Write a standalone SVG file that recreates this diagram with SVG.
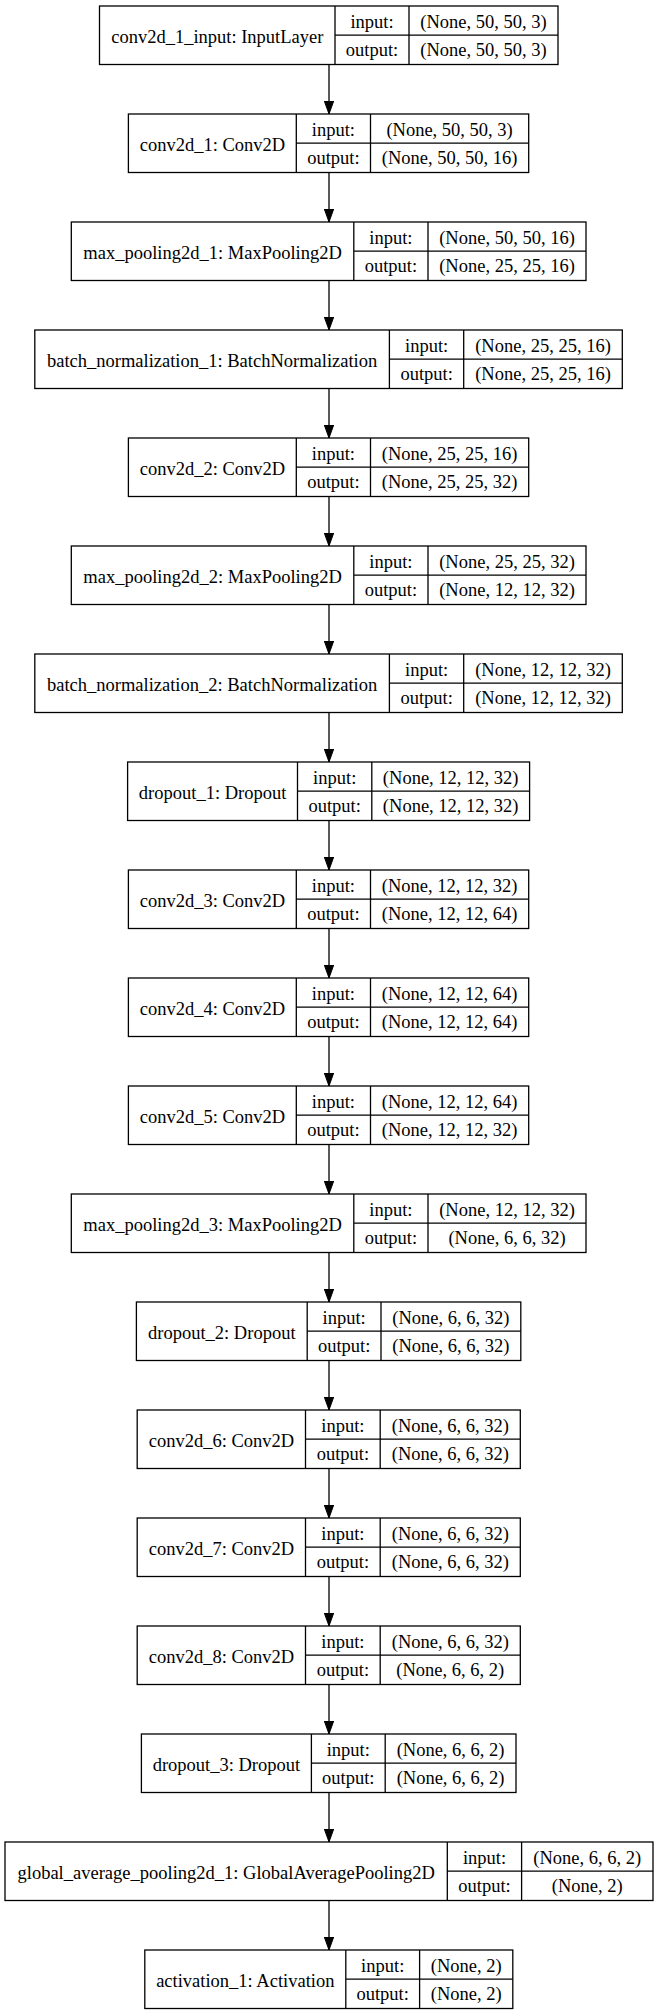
<svg xmlns="http://www.w3.org/2000/svg" width="658" height="2015" viewBox="0 0 658 2015">
<style>
.b{fill:#fff;stroke:#000;stroke-width:1.3}
.l{stroke:#000;stroke-width:1.3;fill:none}
text{font-family:"Liberation Serif","Times New Roman",serif;font-size:18.5px;fill:#000;text-anchor:middle}
.e{stroke:#000;stroke-width:1.3;fill:none;marker-end:url(#ah)}
</style>
<defs>
<marker id="ah" markerUnits="userSpaceOnUse" markerWidth="14" markerHeight="10" refX="13" refY="4.7" orient="auto">
<path d="M0,0 L13,4.7 L0,9.4 Z" fill="#000" stroke="#000" stroke-width="1"/>
</marker>
</defs>
<rect width="658" height="2015" fill="#fff"/>
<g id="connectors">
<line class="e" x1="329" y1="64.5" x2="329" y2="114"/>
<line class="e" x1="329" y1="172.5" x2="329" y2="222"/>
<line class="e" x1="329" y1="280.5" x2="329" y2="330"/>
<line class="e" x1="329" y1="388.5" x2="329" y2="438"/>
<line class="e" x1="329" y1="496.5" x2="329" y2="546"/>
<line class="e" x1="329" y1="604.5" x2="329" y2="654"/>
<line class="e" x1="329" y1="712.5" x2="329" y2="762"/>
<line class="e" x1="329" y1="820.5" x2="329" y2="870"/>
<line class="e" x1="329" y1="928.5" x2="329" y2="978"/>
<line class="e" x1="329" y1="1036.5" x2="329" y2="1086"/>
<line class="e" x1="329" y1="1144.5" x2="329" y2="1194"/>
<line class="e" x1="329" y1="1252.5" x2="329" y2="1302"/>
<line class="e" x1="329" y1="1360.5" x2="329" y2="1410"/>
<line class="e" x1="329" y1="1468.5" x2="329" y2="1518"/>
<line class="e" x1="329" y1="1576.5" x2="329" y2="1626"/>
<line class="e" x1="329" y1="1684.5" x2="329" y2="1734"/>
<line class="e" x1="329" y1="1792.5" x2="329" y2="1842"/>
<line class="e" x1="329" y1="1900.5" x2="329" y2="1950"/>
</g>
<g id="conv2d_1_input" transform="translate(0,6)">
<rect class="b" x="99.5" y="0" width="458.5" height="58.5"/>
<path class="l" d="M335,0V58.5M409,0V58.5M335,29.2H558"/>
<text x="217.3" y="36.5">conv2d_1_input: InputLayer</text>
<text x="372" y="21.5">input:</text><text x="372" y="50">output:</text>
<text x="483.5" y="21.5">(None, 50, 50, 3)</text><text x="483.5" y="50">(None, 50, 50, 3)</text>
</g>
<g id="conv2d_1" transform="translate(0,114)">
<rect class="b" x="128.4" y="0" width="400.3" height="58.5"/>
<path class="l" d="M296.3,0V58.5M370.5,0V58.5M296.3,29.2H528.7"/>
<text x="212.4" y="36.5">conv2d_1: Conv2D</text>
<text x="333.4" y="21.5">input:</text><text x="333.4" y="50">output:</text>
<text x="449.6" y="21.5">(None, 50, 50, 3)</text><text x="449.6" y="50">(None, 50, 50, 16)</text>
</g>
<g id="max_pooling2d_1" transform="translate(0,222)">
<rect class="b" x="71.3" y="0" width="514.7" height="58.5"/>
<path class="l" d="M353.8,0V58.5M428,0V58.5M353.8,29.2H586"/>
<text x="212.6" y="36.5">max_pooling2d_1: MaxPooling2D</text>
<text x="390.9" y="21.5">input:</text><text x="390.9" y="50">output:</text>
<text x="507" y="21.5">(None, 50, 50, 16)</text><text x="507" y="50">(None, 25, 25, 16)</text>
</g>
<g id="batch_normalization_1" transform="translate(0,330)">
<rect class="b" x="34.8" y="0" width="587.5" height="58.5"/>
<path class="l" d="M389.4,0V58.5M463.7,0V58.5M389.4,29.2H622.3"/>
<text x="212.1" y="36.5">batch_normalization_1: BatchNormalization</text>
<text x="426.6" y="21.5">input:</text><text x="426.6" y="50">output:</text>
<text x="543" y="21.5">(None, 25, 25, 16)</text><text x="543" y="50">(None, 25, 25, 16)</text>
</g>
<g id="conv2d_2" transform="translate(0,438)">
<rect class="b" x="128.4" y="0" width="400.3" height="58.5"/>
<path class="l" d="M296.3,0V58.5M370.5,0V58.5M296.3,29.2H528.7"/>
<text x="212.4" y="36.5">conv2d_2: Conv2D</text>
<text x="333.4" y="21.5">input:</text><text x="333.4" y="50">output:</text>
<text x="449.6" y="21.5">(None, 25, 25, 16)</text><text x="449.6" y="50">(None, 25, 25, 32)</text>
</g>
<g id="max_pooling2d_2" transform="translate(0,546)">
<rect class="b" x="71.3" y="0" width="514.7" height="58.5"/>
<path class="l" d="M353.8,0V58.5M428,0V58.5M353.8,29.2H586"/>
<text x="212.6" y="36.5">max_pooling2d_2: MaxPooling2D</text>
<text x="390.9" y="21.5">input:</text><text x="390.9" y="50">output:</text>
<text x="507" y="21.5">(None, 25, 25, 32)</text><text x="507" y="50">(None, 12, 12, 32)</text>
</g>
<g id="batch_normalization_2" transform="translate(0,654)">
<rect class="b" x="34.8" y="0" width="587.5" height="58.5"/>
<path class="l" d="M389.4,0V58.5M463.7,0V58.5M389.4,29.2H622.3"/>
<text x="212.1" y="36.5">batch_normalization_2: BatchNormalization</text>
<text x="426.6" y="21.5">input:</text><text x="426.6" y="50">output:</text>
<text x="543" y="21.5">(None, 12, 12, 32)</text><text x="543" y="50">(None, 12, 12, 32)</text>
</g>
<g id="dropout_1" transform="translate(0,762)">
<rect class="b" x="127.6" y="0" width="402" height="58.5"/>
<path class="l" d="M297.5,0V58.5M371.8,0V58.5M297.5,29.2H529.6"/>
<text x="212.6" y="36.5">dropout_1: Dropout</text>
<text x="334.7" y="21.5">input:</text><text x="334.7" y="50">output:</text>
<text x="450.7" y="21.5">(None, 12, 12, 32)</text><text x="450.7" y="50">(None, 12, 12, 32)</text>
</g>
<g id="conv2d_3" transform="translate(0,870)">
<rect class="b" x="128.4" y="0" width="400.3" height="58.5"/>
<path class="l" d="M296.3,0V58.5M370.5,0V58.5M296.3,29.2H528.7"/>
<text x="212.4" y="36.5">conv2d_3: Conv2D</text>
<text x="333.4" y="21.5">input:</text><text x="333.4" y="50">output:</text>
<text x="449.6" y="21.5">(None, 12, 12, 32)</text><text x="449.6" y="50">(None, 12, 12, 64)</text>
</g>
<g id="conv2d_4" transform="translate(0,978)">
<rect class="b" x="128.4" y="0" width="400.3" height="58.5"/>
<path class="l" d="M296.3,0V58.5M370.5,0V58.5M296.3,29.2H528.7"/>
<text x="212.4" y="36.5">conv2d_4: Conv2D</text>
<text x="333.4" y="21.5">input:</text><text x="333.4" y="50">output:</text>
<text x="449.6" y="21.5">(None, 12, 12, 64)</text><text x="449.6" y="50">(None, 12, 12, 64)</text>
</g>
<g id="conv2d_5" transform="translate(0,1086)">
<rect class="b" x="128.4" y="0" width="400.3" height="58.5"/>
<path class="l" d="M296.3,0V58.5M370.5,0V58.5M296.3,29.2H528.7"/>
<text x="212.4" y="36.5">conv2d_5: Conv2D</text>
<text x="333.4" y="21.5">input:</text><text x="333.4" y="50">output:</text>
<text x="449.6" y="21.5">(None, 12, 12, 64)</text><text x="449.6" y="50">(None, 12, 12, 32)</text>
</g>
<g id="max_pooling2d_3" transform="translate(0,1194)">
<rect class="b" x="71.3" y="0" width="514.7" height="58.5"/>
<path class="l" d="M353.8,0V58.5M428,0V58.5M353.8,29.2H586"/>
<text x="212.6" y="36.5">max_pooling2d_3: MaxPooling2D</text>
<text x="390.9" y="21.5">input:</text><text x="390.9" y="50">output:</text>
<text x="507" y="21.5">(None, 12, 12, 32)</text><text x="507" y="50">(None, 6, 6, 32)</text>
</g>
<g id="dropout_2" transform="translate(0,1302)">
<rect class="b" x="136.4" y="0" width="384.4" height="58.5"/>
<path class="l" d="M307.2,0V58.5M381,0V58.5M307.2,29.2H520.8"/>
<text x="221.8" y="36.5">dropout_2: Dropout</text>
<text x="344.1" y="21.5">input:</text><text x="344.1" y="50">output:</text>
<text x="450.9" y="21.5">(None, 6, 6, 32)</text><text x="450.9" y="50">(None, 6, 6, 32)</text>
</g>
<g id="conv2d_6" transform="translate(0,1410)">
<rect class="b" x="137.2" y="0" width="383.1" height="58.5"/>
<path class="l" d="M305.5,0V58.5M380.2,0V58.5M305.5,29.2H520.3"/>
<text x="221.4" y="36.5">conv2d_6: Conv2D</text>
<text x="342.9" y="21.5">input:</text><text x="342.9" y="50">output:</text>
<text x="450.3" y="21.5">(None, 6, 6, 32)</text><text x="450.3" y="50">(None, 6, 6, 32)</text>
</g>
<g id="conv2d_7" transform="translate(0,1518)">
<rect class="b" x="137.2" y="0" width="383.1" height="58.5"/>
<path class="l" d="M305.5,0V58.5M380.2,0V58.5M305.5,29.2H520.3"/>
<text x="221.4" y="36.5">conv2d_7: Conv2D</text>
<text x="342.9" y="21.5">input:</text><text x="342.9" y="50">output:</text>
<text x="450.3" y="21.5">(None, 6, 6, 32)</text><text x="450.3" y="50">(None, 6, 6, 32)</text>
</g>
<g id="conv2d_8" transform="translate(0,1626)">
<rect class="b" x="137.2" y="0" width="383.1" height="58.5"/>
<path class="l" d="M305.5,0V58.5M380.2,0V58.5M305.5,29.2H520.3"/>
<text x="221.4" y="36.5">conv2d_8: Conv2D</text>
<text x="342.9" y="21.5">input:</text><text x="342.9" y="50">output:</text>
<text x="450.3" y="21.5">(None, 6, 6, 32)</text><text x="450.3" y="50">(None, 6, 6, 2)</text>
</g>
<g id="dropout_3" transform="translate(0,1734)">
<rect class="b" x="141.4" y="0" width="374.6" height="58.5"/>
<path class="l" d="M311.4,0V58.5M385.2,0V58.5M311.4,29.2H516"/>
<text x="226.4" y="36.5">dropout_3: Dropout</text>
<text x="348.3" y="21.5">input:</text><text x="348.3" y="50">output:</text>
<text x="450.6" y="21.5">(None, 6, 6, 2)</text><text x="450.6" y="50">(None, 6, 6, 2)</text>
</g>
<g id="global_average_pooling2d_1" transform="translate(0,1842)">
<rect class="b" x="5" y="0" width="648" height="58.5"/>
<path class="l" d="M447.3,0V58.5M521.6,0V58.5M447.3,29.2H653"/>
<text x="226.2" y="36.5">global_average_pooling2d_1: GlobalAveragePooling2D</text>
<text x="484.5" y="21.5">input:</text><text x="484.5" y="50">output:</text>
<text x="587.3" y="21.5">(None, 6, 6, 2)</text><text x="587.3" y="50">(None, 2)</text>
</g>
<g id="activation_1" transform="translate(0,1950)">
<rect class="b" x="144.8" y="0" width="368" height="58.5"/>
<path class="l" d="M345.8,0V58.5M419.6,0V58.5M345.8,29.2H512.8"/>
<text x="245.3" y="36.5">activation_1: Activation</text>
<text x="382.7" y="21.5">input:</text><text x="382.7" y="50">output:</text>
<text x="466.2" y="21.5">(None, 2)</text><text x="466.2" y="50">(None, 2)</text>
</g>
</svg>
